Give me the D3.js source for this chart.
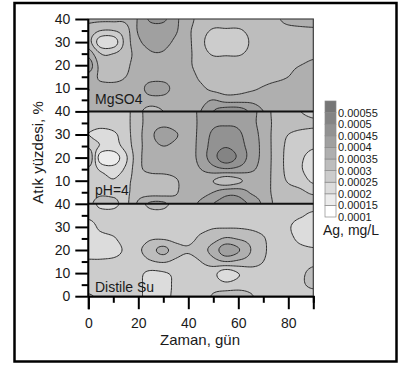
<!DOCTYPE html>
<html>
<head>
<meta charset="utf-8">
<script src="https://cdn.jsdelivr.net/npm/d3@7"></script>
<style>
  body { margin: 0; background: #fff; }
  text { font-family: Arial, "Liberation Sans", sans-serif; fill: #1a1a1a; }
</style>
</head>
<body>
<svg id="chart" width="408" height="365"></svg>
<script>
// grid columns (Zaman, gün) and rows (Atık yüzdesi, %) - rows go from top (40) to bottom (0)
var days = [0, 5, 10, 15, 20, 25, 30, 35, 40, 45, 50, 55, 60, 65, 70, 75, 80, 85, 90];
var waste = [40, 35, 30, 25, 20, 15, 10, 5, 0];

// Ag, in units of 1e-4 mg/L
var mgso4 = [
  [3.6,3.6,3.6,3.6,4.05,4.6,4.6,4.1,3.7,3.3,3.2,3.2,3.2,3.2,3.3,3.4,3.7,3.8,3.8],
  [3.3,3.0,3.0,3.3,4.05,4.2,4.2,4.05,3.6,3.2,2.95,2.95,2.95,3.1,3.2,3.25,3.3,3.35,3.4],
  [3.2,2.2,2.2,3.2,3.9,4.15,4.15,3.9,3.6,3.15,2.7,2.7,2.7,3.05,3.2,3.2,3.2,3.25,3.3],
  [3.8,3.0,3.0,3.3,3.7,3.95,3.95,3.7,3.6,3.2,2.95,2.95,2.95,3.1,3.2,3.2,3.25,3.3,3.4],
  [4.3,3.3,3.2,3.4,3.7,3.75,3.75,3.7,3.6,3.25,3.2,3.2,3.2,3.2,3.2,3.3,3.4,3.5,3.6],
  [3.8,3.4,3.3,3.5,3.7,3.8,3.8,3.7,3.7,3.4,3.2,3.2,3.2,3.2,3.25,3.35,3.5,3.65,3.7],
  [3.5,3.65,3.7,3.7,3.8,4.2,4.2,3.8,3.7,3.6,3.35,3.25,3.3,3.4,3.55,3.7,3.75,3.75,3.75],
  [3.6,3.7,3.7,3.7,3.75,3.8,3.8,3.7,3.7,3.8,4.0,3.8,3.8,3.85,3.75,3.7,3.7,3.7,3.7],
  [3.7,3.7,3.7,3.7,3.6,3.3,3.5,3.7,3.8,4.0,4.5,4.8,4.8,4.4,4.0,3.8,3.7,3.7,3.7]
];
var ph4 = [
  [2.8,2.8,2.8,2.85,3.35,3.7,3.7,3.7,3.8,4.1,4.3,4.4,4.3,4.1,3.85,3.3,3.2,3.0,2.8],
  [2.75,2.7,2.75,2.85,3.35,3.7,3.8,3.75,3.8,4.1,4.4,4.45,4.4,4.1,3.85,3.35,3.3,3.2,3.1],
  [2.5,2.3,2.4,2.8,3.35,3.85,4.35,4.05,3.8,4.15,4.6,4.7,4.6,4.2,3.85,3.3,3.0,2.85,2.8],
  [2.9,2.45,2.3,2.7,3.35,3.75,4.0,3.85,3.75,4.2,4.7,4.95,4.7,4.3,3.85,3.3,2.9,2.8,2.6],
  [3.5,1.7,1.7,2.4,3.35,3.7,3.7,3.7,3.75,4.2,4.8,5.3,4.9,4.3,3.85,3.3,2.85,2.6,2.2],
  [2.9,2.4,2.2,2.6,3.35,3.65,3.7,3.7,3.75,4.0,4.3,4.45,4.35,4.1,3.8,3.3,2.85,2.55,2.2],
  [2.6,2.75,2.55,2.85,3.2,3.2,3.2,3.45,3.7,3.7,3.5,3.2,3.4,3.7,3.75,3.3,2.95,2.75,2.4],
  [2.8,2.9,2.85,2.9,3.25,3.25,3.25,3.45,3.75,3.8,4.0,4.3,4.3,3.95,3.75,3.35,3.2,3.1,2.9],
  [2.9,3.2,3.15,2.9,3.6,4.1,4.1,3.7,3.8,4.1,4.5,4.7,4.7,4.4,3.9,3.4,3.3,3.3,3.3]
];
var distile = [
  [2.7,2.4,2.4,2.65,2.85,3.1,3.1,2.85,2.7,2.7,2.7,2.7,2.7,2.7,2.7,2.7,2.7,2.7,2.7],
  [2.6,2.65,2.65,2.7,2.75,2.85,2.85,2.75,2.7,2.7,2.7,2.7,2.7,2.7,2.7,2.7,2.65,2.55,2.4],
  [2.3,2.6,2.7,2.7,2.7,2.75,2.75,2.75,2.75,2.85,2.95,2.95,2.95,2.9,2.8,2.7,2.55,2.3,2.25],
  [2.3,2.35,2.45,2.7,2.75,2.95,2.95,2.85,2.85,3.1,3.3,3.55,3.45,3.3,3.05,2.7,2.6,2.4,2.35],
  [2.3,2.3,2.3,2.6,2.9,3.3,3.65,3.2,3.05,3.3,3.7,4.3,4.05,3.5,3.1,2.75,2.7,2.6,2.55],
  [2.55,2.55,2.6,2.7,2.75,2.95,3.05,2.9,2.8,3.0,3.3,3.5,3.4,3.25,3.0,2.75,2.7,2.75,2.85],
  [2.7,2.7,2.7,2.7,2.6,2.4,2.45,2.6,2.7,2.75,2.65,2.2,2.5,2.75,2.8,2.75,2.75,2.9,3.15],
  [2.75,2.7,2.7,2.7,2.6,2.3,2.3,2.6,2.7,2.75,2.8,2.65,2.75,2.8,2.75,2.7,2.75,2.9,3.15],
  [3.05,2.9,2.7,2.7,2.6,2.3,2.35,2.6,2.7,2.8,3.05,3.25,3.25,3.05,2.8,2.7,2.7,2.7,2.7]
];

var panelNames = ["MgSO4", "pH=4", "Distile Su"];
var levels = [0.0001, 0.00015, 0.0002, 0.00025, 0.0003, 0.00035, 0.0004, 0.00045, 0.0005, 0.00055, 0.0006];
var grays = ["#ffffff","#ececec","#dcdcdc","#cccccc","#bdbdbd","#afafaf","#a0a0a0","#929292","#848484","#767676"];
var xMajor = [0, 20, 40, 60, 80];
var xMinor = [10, 30, 50, 70, 90];
var yMajor = [10, 20, 30, 40];
var yMinor = [5, 15, 25, 35];

var svg = d3.select("#chart");

// outer frame
svg.append("rect")
  .attr("x", 14.5).attr("y", 3).attr("width", 382).attr("height", 358.5)
  .attr("fill", "none").attr("stroke", "#000").attr("stroke-width", 2.5);

var x = d3.scaleLinear().domain([0, 90]).range([88.3, 313.3]);
var panelTop = 19, panelH = 92.4;

// catmull-rom upsampling so the contour lines come out smooth
function upsample(rows, f) {
  var ny = rows.length, nx = rows[0].length;
  var NX = (nx - 1) * f + 1, NY = (ny - 1) * f + 1;
  function cr(p0, p1, p2, p3, t) {
    return 0.5 * (2 * p1 + (-p0 + p2) * t + (2 * p0 - 5 * p1 + 4 * p2 - p3) * t * t + (-p0 + 3 * p1 - 3 * p2 + p3) * t * t * t);
  }
  function cl(v, n) { return Math.max(0, Math.min(n - 1, v)); }
  var tmp = [];
  for (var j = 0; j < ny; j++) {
    tmp.push([]);
    for (var I = 0; I < NX; I++) {
      var u = I / f, i0 = Math.min(Math.floor(u), nx - 2), t = u - i0;
      var r = rows[j];
      tmp[j].push(cr(r[cl(i0 - 1, nx)], r[i0], r[i0 + 1], r[cl(i0 + 2, nx)], t));
    }
  }
  var out = new Array(NX * NY);
  for (var J = 0; J < NY; J++) {
    var v = J / f, j0 = Math.min(Math.floor(v), ny - 2), s = v - j0;
    for (var I2 = 0; I2 < NX; I2++) {
      out[J * NX + I2] = cr(tmp[cl(j0 - 1, ny)][I2], tmp[j0][I2], tmp[j0 + 1][I2], tmp[cl(j0 + 2, ny)][I2], s) * 1e-4;
    }
  }
  return { values: out, nx: NX, ny: NY };
}

var path = d3.geoPath();

[mgso4, ph4, distile].forEach(function(rows, k) {
  var top = panelTop + k * panelH;
  var y = d3.scaleLinear().domain([0, 40]).range([top + panelH, top]);
  var g = upsample(rows, 8);
  var cx = d3.scaleLinear().domain([0.5, g.nx - 0.5]).range([x(days[0]), x(days[days.length - 1])]);
  var cy = d3.scaleLinear().domain([0.5, g.ny - 0.5]).range([y(waste[0]), y(waste[waste.length - 1])]);

  var contours = d3.contours().size([g.nx, g.ny]).thresholds(levels.slice(0, 10))(g.values);
  contours.forEach(function(c) {
    c.coordinates = c.coordinates.map(function(poly) {
      return poly.map(function(ring) {
        return ring.map(function(p) { return [cx(p[0]), cy(p[1])]; });
      });
    });
  });

  svg.append("clipPath").attr("id", "clip" + k)
    .append("rect").attr("x", x(0)).attr("y", top).attr("width", x(90) - x(0)).attr("height", panelH);

  var pg = svg.append("g").attr("clip-path", "url(#clip" + k + ")");
  pg.selectAll("path.band").data(contours).enter().append("path")
    .attr("class", "band")
    .attr("d", path)
    .attr("fill", function(d, i) { return grays[i]; });
  pg.selectAll("path.line").data(contours.slice(1)).enter().append("path")
    .attr("class", "line")
    .attr("d", path)
    .attr("fill", "none")
    .attr("stroke", "#2e2e2e")
    .attr("stroke-width", 1);

  // y axis for this panel
  var ticks = k === 2 ? [0].concat(yMajor) : yMajor;
  var ax = svg.append("g").attr("transform", "translate(" + x(0) + ",0)")
    .call(d3.axisLeft(y).tickValues(ticks).tickSize(13).tickPadding(5).tickFormat(d3.format("d")));
  ax.select(".domain").remove();
  ax.selectAll("line").attr("stroke", "#000").attr("stroke-width", 2);
  ax.selectAll("text").attr("font-size", 14).attr("font-family", "Arial, 'Liberation Sans', sans-serif").attr("fill", "#1a1a1a");
  var axm = svg.append("g").attr("transform", "translate(" + x(0) + ",0)")
    .call(d3.axisLeft(y).tickValues(yMinor).tickSize(6.6).tickFormat(""));
  axm.select(".domain").remove();
  axm.selectAll("line").attr("stroke", "#000").attr("stroke-width", 2);

  svg.append("text").attr("x", 95).attr("y", [104, 195, 292][k])
    .attr("font-size", 14).text(panelNames[k]);
});

// plot frame and panel separators
var bottom = panelTop + 3 * panelH;
svg.append("rect").attr("x", x(0)).attr("y", panelTop).attr("width", x(90) - x(0)).attr("height", 3 * panelH)
  .attr("fill", "none").attr("stroke", "#444").attr("stroke-width", 1.2);
[1, 2].forEach(function(k) {
  svg.append("line").attr("x1", x(0)).attr("x2", x(90))
    .attr("y1", panelTop + k * panelH).attr("y2", panelTop + k * panelH)
    .attr("stroke", "#111").attr("stroke-width", 2);
});
svg.append("line").attr("x1", x(0)).attr("x2", x(0)).attr("y1", panelTop).attr("y2", bottom)
  .attr("stroke", "#000").attr("stroke-width", 2);

// x axis
var xa = svg.append("g").attr("transform", "translate(0," + bottom + ")")
  .call(d3.axisBottom(x).tickValues(xMajor).tickSize(13).tickPadding(8.5).tickFormat(d3.format("d")));
xa.select(".domain").attr("stroke", "#000").attr("stroke-width", 2);
xa.selectAll("line").attr("stroke", "#000").attr("stroke-width", 2);
xa.selectAll("text").attr("font-size", 14).attr("font-family", "Arial, 'Liberation Sans', sans-serif").attr("fill", "#1a1a1a");
var xm = svg.append("g").attr("transform", "translate(0," + bottom + ")")
  .call(d3.axisBottom(x).tickValues(xMinor).tickSize(6.6).tickFormat(""));
xm.select(".domain").remove();
xm.selectAll("line").attr("stroke", "#000").attr("stroke-width", 2);

// axis titles
svg.append("text").attr("x", 200).attr("y", 345).attr("text-anchor", "middle")
  .attr("font-size", 15).text("Zaman, gün");
svg.append("text").attr("transform", "translate(43,152.5) rotate(-90)").attr("text-anchor", "middle")
  .attr("font-size", 15).text("Atık yüzdesi, %");

// legend
var ly = d3.scaleLinear().domain([levels[0], levels[levels.length - 1]]).range([217, 101]);
var leg = svg.append("g");
leg.selectAll("rect").data(grays).enter().append("rect")
  .attr("x", 325).attr("width", 11)
  .attr("y", function(d, i) { return ly(levels[i + 1]); })
  .attr("height", function(d, i) { return ly(levels[i]) - ly(levels[i + 1]); })
  .attr("fill", function(d) { return d; })
  .attr("stroke", "#8a8a8a").attr("stroke-width", 0.7);
leg.selectAll("text").data(levels.slice(0, 10)).enter().append("text")
  .attr("x", 338).attr("y", function(d) { return ly(d); }).attr("dy", "0.36em")
  .attr("font-size", 11).attr("font-family", "'DejaVu Sans', Verdana, sans-serif")
  .text(function(d) { return String(d); });
svg.append("text").attr("x", 323).attr("y", 235).attr("font-size", 14).text("Ag, mg/L");
</script>
</body>
</html>
